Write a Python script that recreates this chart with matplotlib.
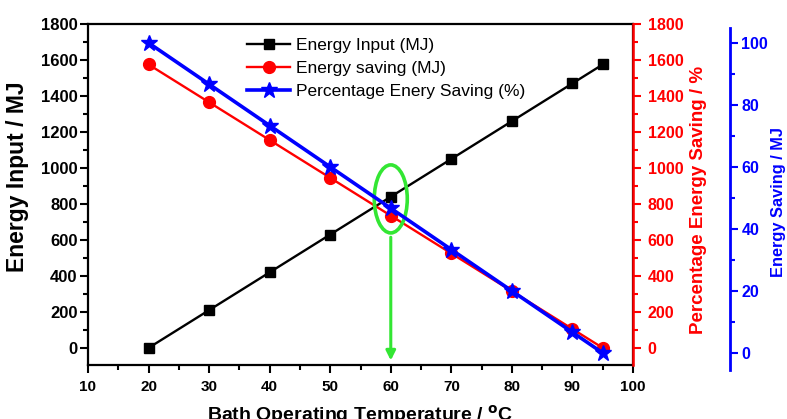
import numpy as np
import matplotlib
matplotlib.use("Agg")
from matplotlib import pyplot as plt
from matplotlib.patches import Ellipse
from matplotlib.ticker import MultipleLocator

plt.rcParams['font.family'] = ['Liberation Sans', 'DejaVu Sans']
plt.rcParams['font.weight'] = 'bold'

# data
temp = [20, 30, 40, 50, 60, 70, 80, 90, 95]
energy_input = [0, 210, 420, 630, 840, 1050, 1260, 1470, 1575]
energy_saving = [1575, 1365, 1155, 945, 735, 525, 315, 105, 0]
pct_saving = [100, 86.67, 73.33, 60, 46.67, 33.33, 20, 6.67, 0]

green = '#33e633'
W, H = 787, 419

fig = plt.figure(figsize=(W / 100, H / 100), dpi=100)
# main axes in pixel terms: x 88..633, y 24..365
ax1 = fig.add_axes([88 / W, 1 - 365 / H, 545 / W, 341 / H])
ax2 = ax1.twinx()
# blue axis is a little taller than the others
ax3 = fig.add_axes([88 / W, 1 - 370 / H, 545 / W, 342 / H])
ax3.patch.set_visible(False)

l1, = ax1.plot(temp, energy_input, color='black', lw=1.7, marker='s', ms=7.3,
               label='Energy Input (MJ)')
l2, = ax2.plot(temp, energy_saving, color='red', lw=1.7, marker='o', ms=8.5,
               label='Energy saving (MJ)')
l3, = ax3.plot(temp, pct_saving, color='blue', lw=2.6, marker='*', ms=12,
               label='Percentage Enery Saving (%)')

for a in (ax1, ax2, ax3):
    a.set_xlim(10, 100)
ax1.set_ylim(-95, 1800)
ax2.set_ylim(-95, 1800)
ax3.set_ylim(-5.5, 104.8)

tick_kw = dict(direction='out', width=1.5)
ax1.xaxis.set_major_locator(MultipleLocator(10))
ax1.xaxis.set_minor_locator(MultipleLocator(5))
ax1.yaxis.set_major_locator(MultipleLocator(200))
ax1.yaxis.set_minor_locator(MultipleLocator(100))
ax1.tick_params(axis='both', which='major', length=6, pad=5, labelsize=11,
                **tick_kw)
ax1.tick_params(axis='both', which='minor', length=3.6, **tick_kw)
ax1.tick_params(axis='y', which='major', pad=1.5, labelsize=12)
ax1.tick_params(top=False, right=False, which='both')

ax2.yaxis.set_major_locator(MultipleLocator(200))
ax2.yaxis.set_minor_locator(MultipleLocator(100))
ax2.tick_params(axis='y', which='major', length=5.5, pad=5, color='red',
                labelcolor='red', labelsize=11.5, **tick_kw)
ax2.tick_params(axis='y', which='minor', length=3.6, color='red', **tick_kw)

ax3.xaxis.set_visible(False)
ax3.yaxis.tick_right()
ax3.yaxis.set_label_position('right')
ax3.yaxis.set_major_locator(MultipleLocator(20))
ax3.yaxis.set_minor_locator(MultipleLocator(10))
ax3.tick_params(axis='y', which='major', length=6, pad=2, color='blue',
                labelcolor='blue', labelsize=11.5, **tick_kw)
ax3.tick_params(axis='y', which='minor', length=3.6, color='blue', **tick_kw)
for s in ('left', 'top', 'bottom'):
    ax3.spines[s].set_visible(False)
ax3.spines['right'].set_position(('outward', 70))
ax3.spines['right'].set_color('blue')
ax3.spines['right'].set_linewidth(2)

for s in ax1.spines.values():
    s.set_linewidth(1.6)
for s in ('left', 'top', 'bottom'):
    ax2.spines[s].set_visible(False)
ax2.spines['right'].set_color('red')
ax2.spines['right'].set_linewidth(1.8)

ax1.set_xlabel('Bath Operating Temperature / $^{\\rm o}$C', fontsize=14,
               fontweight='bold')
ax1.xaxis.set_label_coords(0.5, -0.112)
ax1.set_ylabel('Energy Input / MJ', fontsize=16.5, fontweight='bold')
ax1.yaxis.set_label_coords(-0.108, 0.551)
ax2.set_ylabel('Percentage Energy Saving / %', fontsize=13.5,
               fontweight='bold', color='red')
ax2.yaxis.set_label_coords(1.104, 0.484)
ax3.set_ylabel('Energy Saving / MJ', fontsize=11.8, fontweight='bold',
               color='blue')
ax3.yaxis.set_label_coords(1.253, 0.49)

# green highlight around the 60 C crossing
ell = Ellipse((60, 828), width=5.45, height=378, fill=False, edgecolor=green,
              lw=2.6, transform=ax1.transData, clip_on=False)
ax3.add_artist(ell)
ax3.annotate('', xy=(60, -70), xytext=(60, 615), xycoords=ax1.transData,
             textcoords=ax1.transData,
             arrowprops=dict(arrowstyle='-|>', color=green, lw=2.2,
                             mutation_scale=14, shrinkA=0, shrinkB=0))

fig.legend(handles=[l1, l2, l3], loc='upper left',
           bbox_to_anchor=(247 / W, 1 - 38 / H), frameon=False,
           prop={'size': 12.5, 'weight': 'normal'}, borderpad=0,
           borderaxespad=0, handlelength=2.5, handletextpad=0.3,
           labelspacing=0.45)

fig.savefig('out.png', dpi=100)
